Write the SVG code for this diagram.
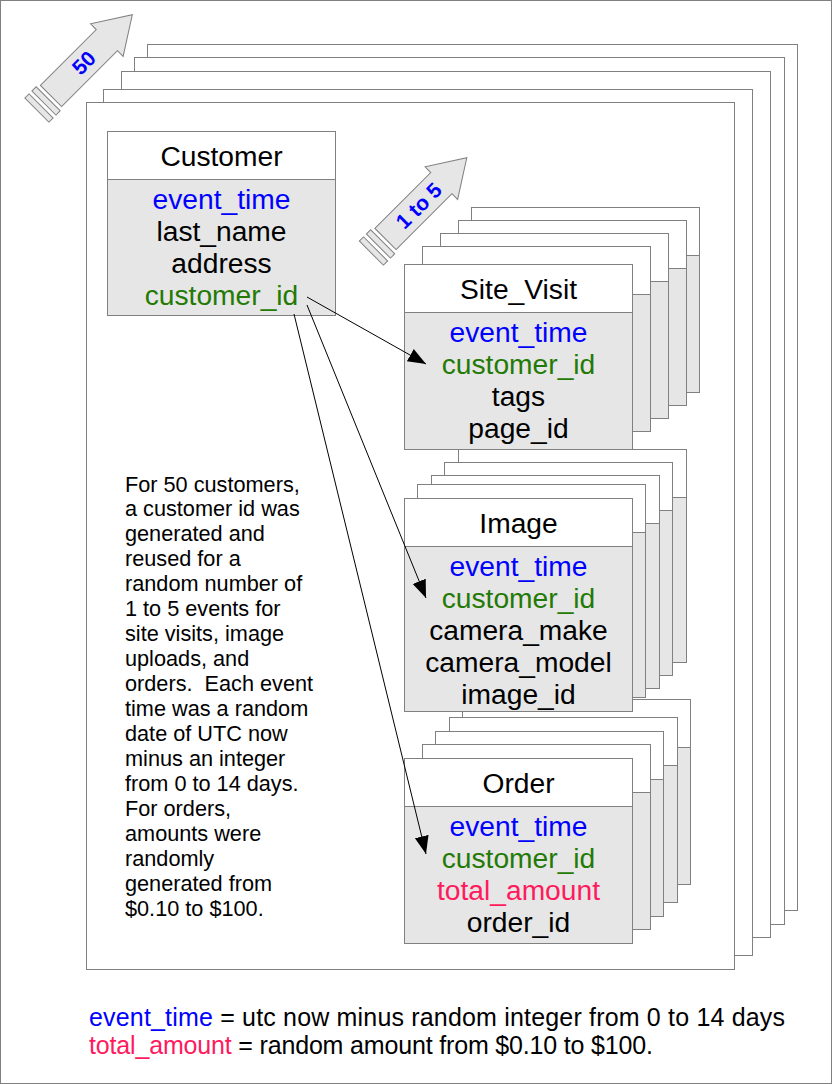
<svg xmlns="http://www.w3.org/2000/svg" width="832" height="1084" viewBox="0 0 832 1084">
<defs>
<style>
.frame{fill:#ffffff;stroke:#808080;stroke-width:1}
.body{fill:#e6e6e6;stroke:#808080;stroke-width:1}
.head{fill:#ffffff;stroke:#808080;stroke-width:1}
.blk{fill:#e6e6e6;stroke:#808080;stroke-width:1}
text{font-family:"Liberation Sans",Arial,sans-serif}
.t{font-size:28.2px;fill:#000000;text-anchor:middle}
.f{font-size:28.2px;text-anchor:middle}
.blue{fill:#0000ff}
.green{fill:#237a05}
.pink{fill:#ff1a5e}
.black{fill:#000000}
.lbl{font-size:21px;font-weight:bold;fill:#0000ff;text-anchor:middle}
.para{font-size:21.7px;fill:#000000}
.leg{font-size:25px}
.conn{stroke:#000000;stroke-width:1;fill:none;marker-end:url(#ah)}
</style>
<marker id="ah" markerUnits="userSpaceOnUse" markerWidth="20" markerHeight="16" refX="18" refY="7" orient="auto">
<path d="M0,0 L18,7 L0,14 z" fill="#000000"/>
</marker>
<g id="bigarrow">
<path class="blk" d="M0,-15 L79,-15 L79,-23 L115,0 L79,23 L79,15 L0,15 Z"/>
<rect class="blk" x="-10" y="-17" width="6" height="34"/>
<rect class="blk" x="-20" y="-17" width="6" height="34"/>
</g>
</defs>
<rect x="0.5" y="0.5" width="831" height="1083" fill="#ffffff" stroke="#808080"/>

<g id="pages">
<rect class="frame" x="147.5" y="44.5" width="650" height="866"/>
<rect class="frame" x="134.5" y="57.5" width="650" height="867"/>
<rect class="frame" x="121.5" y="71.5" width="649" height="866"/>
<rect class="frame" x="103.5" y="89.5" width="649" height="866"/>
<rect class="frame" x="86.5" y="102.5" width="648" height="867"/>
</g>

<g id="arrow-50">
<use href="#bigarrow" transform="translate(51,96) rotate(-45)"/>
<text class="lbl" transform="translate(84,63) rotate(-45)" y="7">50</text>
</g>

<g id="arrow-1to5">
<use href="#bigarrow" transform="translate(385.5,239) rotate(-45)"/>
<text class="lbl" transform="translate(419,206) rotate(-45)" y="7">1 to 5</text>
</g>

<g id="customer">
<rect class="body" x="107.5" y="131.5" width="228" height="184"/>
<rect class="head" x="107.5" y="131.5" width="228" height="48"/>
<text class="t" x="221.5" y="166">Customer</text>
<text class="f blue" x="221.5" y="209">event_time</text>
<text class="f black" x="221.5" y="241">last_name</text>
<text class="f black" x="221.5" y="273">address</text>
<text class="f green" x="221.5" y="305">customer_id</text>
</g>

<g id="order">
<rect class="body" x="462.5" y="699.5" width="228" height="185"/><rect class="head" x="462.5" y="699.5" width="228" height="48"/>
<rect class="body" x="449.5" y="717.5" width="228" height="185"/><rect class="head" x="449.5" y="717.5" width="228" height="48"/>
<rect class="body" x="435.5" y="731.5" width="228" height="185"/><rect class="head" x="435.5" y="731.5" width="228" height="48"/>
<rect class="body" x="422.5" y="744.5" width="228" height="185"/><rect class="head" x="422.5" y="744.5" width="228" height="48"/>
<rect class="body" x="404.5" y="758.5" width="228" height="185"/><rect class="head" x="404.5" y="758.5" width="228" height="48"/>
<text class="t" x="518.5" y="793">Order</text>
<text class="f blue" x="518.5" y="836">event_time</text>
<text class="f green" x="518.5" y="868">customer_id</text>
<text class="f pink" x="518.5" y="900">total_amount</text>
<text class="f black" x="518.5" y="932">order_id</text>
</g>

<g id="image">
<rect class="body" x="458.5" y="449.5" width="228" height="213"/><rect class="head" x="458.5" y="449.5" width="228" height="48"/>
<rect class="body" x="444.5" y="462.5" width="228" height="213"/><rect class="head" x="444.5" y="462.5" width="228" height="48"/>
<rect class="body" x="431.5" y="475.5" width="228" height="213"/><rect class="head" x="431.5" y="475.5" width="228" height="48"/>
<rect class="body" x="417.5" y="484.5" width="228" height="213"/><rect class="head" x="417.5" y="484.5" width="228" height="48"/>
<rect class="body" x="404.5" y="498.5" width="228" height="213"/><rect class="head" x="404.5" y="498.5" width="228" height="48"/>
<text class="t" x="518.5" y="533">Image</text>
<text class="f blue" x="518.5" y="576">event_time</text>
<text class="f green" x="518.5" y="608">customer_id</text>
<text class="f black" x="518.5" y="640">camera_make</text>
<text class="f black" x="518.5" y="672">camera_model</text>
<text class="f black" x="518.5" y="704">image_id</text>
</g>

<g id="site_visit">
<rect class="body" x="471.5" y="207.5" width="228" height="185"/><rect class="head" x="471.5" y="207.5" width="228" height="48"/>
<rect class="body" x="458.5" y="220.5" width="228" height="185"/><rect class="head" x="458.5" y="220.5" width="228" height="48"/>
<rect class="body" x="440.5" y="233.5" width="228" height="185"/><rect class="head" x="440.5" y="233.5" width="228" height="48"/>
<rect class="body" x="422.5" y="246.5" width="228" height="185"/><rect class="head" x="422.5" y="246.5" width="228" height="48"/>
<rect class="body" x="404.5" y="264.5" width="228" height="185"/><rect class="head" x="404.5" y="264.5" width="228" height="48"/>
<text class="t" x="518.5" y="299">Site_Visit</text>
<text class="f blue" x="518.5" y="342">event_time</text>
<text class="f green" x="518.5" y="374">customer_id</text>
<text class="f black" x="518.5" y="406">tags</text>
<text class="f black" x="518.5" y="438">page_id</text>
</g>

<g id="connectors">
<line class="conn" x1="307" y1="297" x2="426" y2="364"/>
<line class="conn" x1="307" y1="305" x2="426" y2="598"/>
<line class="conn" x1="294" y1="314" x2="426" y2="854"/>
</g>

<g id="note">
<text class="para" x="125" y="491.5">For 50 customers,</text>
<text class="para" x="125" y="516.4">a customer id was</text>
<text class="para" x="125" y="541.4">generated and</text>
<text class="para" x="125" y="566.3">reused for a</text>
<text class="para" x="125" y="591.3">random number of</text>
<text class="para" x="125" y="616.2">1 to 5 events for</text>
<text class="para" x="125" y="641.1">site visits, image</text>
<text class="para" x="125" y="666.1">uploads, and</text>
<text class="para" x="125" y="691" xml:space="preserve">orders.  Each event</text>
<text class="para" x="125" y="716">time was a random</text>
<text class="para" x="125" y="740.9">date of UTC now</text>
<text class="para" x="125" y="765.8">minus an integer</text>
<text class="para" x="125" y="790.8">from 0 to 14 days.</text>
<text class="para" x="125" y="815.7">For orders,</text>
<text class="para" x="125" y="840.7">amounts were</text>
<text class="para" x="125" y="865.6">randomly</text>
<text class="para" x="125" y="890.5">generated from</text>
<text class="para" x="125" y="915.5">$0.10 to $100.</text>
</g>

<g id="legend">
<text class="leg" x="89" y="1026" textLength="696" lengthAdjust="spacing"><tspan class="blue">event_time</tspan><tspan class="black"> = utc now minus random integer from 0 to 14 days</tspan></text>
<text class="leg" x="89" y="1054" textLength="564" lengthAdjust="spacing"><tspan class="pink">total_amount</tspan><tspan class="black"> = random amount from $0.10 to $100.</tspan></text>
</g>
</svg>
